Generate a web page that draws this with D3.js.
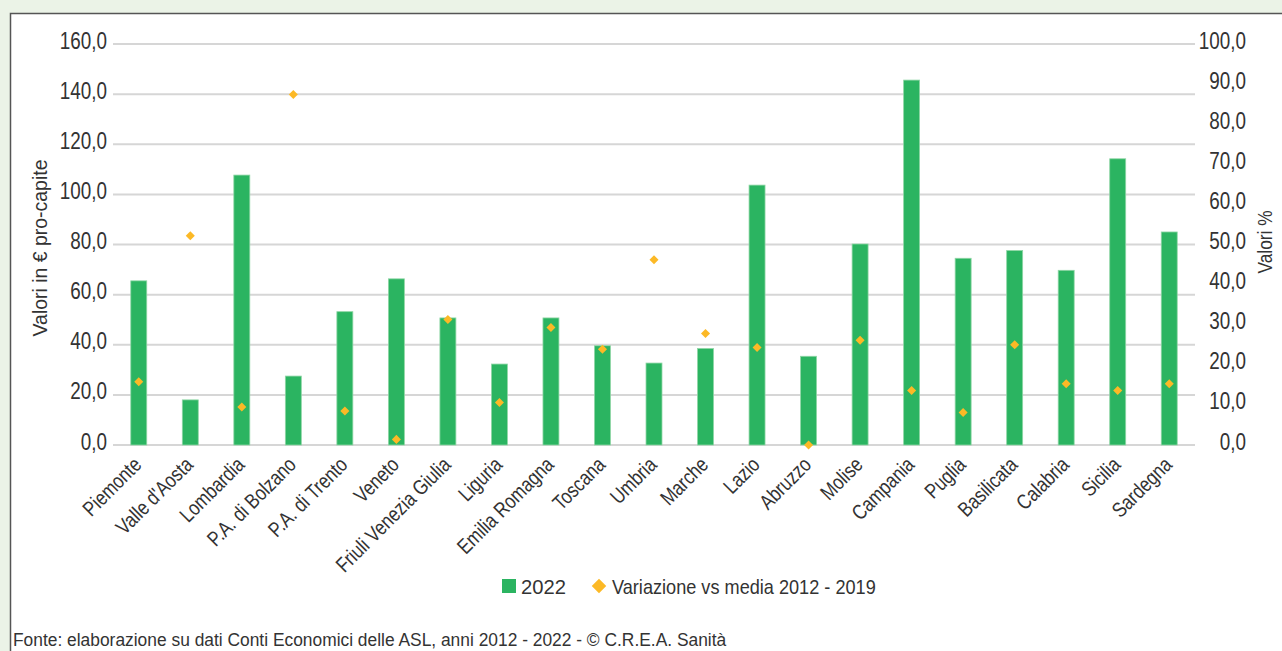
<!DOCTYPE html>
<html><head><meta charset="utf-8">
<script src="https://cdn.jsdelivr.net/npm/d3@7"></script>
<style>
html,body{margin:0;padding:0;background:#ebf3e7;}
svg{display:block;}
text{font-family:"Liberation Sans",Arial,sans-serif;fill:#333;}
</style></head><body>
<svg id="c" width="1282" height="651"></svg>
<script>
const categories = ["Piemonte","Valle d'Aosta","Lombardia","P.A. di Bolzano","P.A. di Trento","Veneto","Friuli Venezia Giulia","Liguria","Emilia Romagna","Toscana","Umbria","Marche","Lazio","Abruzzo","Molise","Campania","Puglia","Basilicata","Calabria","Sicilia","Sardegna"];
const values2022 = [65.5,18.0,107.7,27.5,53.2,66.3,50.7,32.3,50.7,39.6,32.7,38.5,103.7,35.4,80.2,145.6,74.5,77.6,69.7,114.2,85.0];
const variazione = [15.8,52.2,9.5,87.4,8.5,1.4,31.3,10.6,29.3,23.9,46.2,27.8,24.3,0.0,26.1,13.6,8.1,25.0,15.3,13.6,15.3];
const leftTicks = [0,20,40,60,80,100,120,140,160];
const rightTicks = [0,10,20,30,40,50,60,70,80,90,100];
const seriesNames = ["2022","Variazione vs media 2012 - 2019"];
const leftTitle = "Valori in € pro-capite";
const rightTitle = "Valori %";
const source = "Fonte: elaborazione su dati Conti Economici delle ASL, anni 2012 - 2022 - © C.R.E.A. Sanità";

const NARROW = 0.82;
const svg = d3.select("#c");
const fmt = d => d3.format(".1f")(d).replace(".", ",");
const L = 113, R = 1195, T = 44, B = 445;

// frame
svg.append("rect").attr("x",10.5).attr("y",13.5).attr("width",1300).attr("height",700)
  .attr("fill","#fff").attr("stroke","#555").attr("stroke-width",1.5);

const x = d3.scaleBand().domain(categories).range([L, R]).paddingInner(0.69).paddingOuter(0.345);
const yL = d3.scaleLinear().domain([0,160]).range([B, T]);
const yR = d3.scaleLinear().domain([0,100]).range([B, T]);

// gridlines
svg.append("g").selectAll("line").data(leftTicks).join("line")
  .attr("x1",L).attr("x2",R).attr("y1",d=>yL(d)).attr("y2",d=>yL(d))
  .attr("stroke","#d6d6d6").attr("stroke-width",2);

function styleTicks(g){
  g.select(".domain").remove();
  g.selectAll("text").attr("font-size",23).attr("fill","#333").attr("dy",4).attr("x",0)
    .attr("transform",`scale(${NARROW},1)`);
}
// left axis
svg.append("g").attr("transform",`translate(${L-6},0)`)
  .call(d3.axisLeft(yL).tickValues(leftTicks).tickFormat(fmt).tickSize(0).tickPadding(0))
  .call(styleTicks);
// right axis
svg.append("g").attr("transform",`translate(1246,0)`)
  .call(d3.axisLeft(yR).tickValues(rightTicks).tickFormat(fmt).tickSize(0).tickPadding(0))
  .call(styleTicks);

// bars
svg.append("g").selectAll("rect").data(categories).join("rect")
  .attr("x",d=>x(d)).attr("width",x.bandwidth())
  .attr("y",(d,i)=>yL(values2022[i])).attr("height",(d,i)=>B-yL(values2022[i]))
  .attr("fill","#2bb461").attr("stroke","#8fd6a5").attr("stroke-width",0.8);

// diamonds
const dia = d3.symbol().type(d3.symbolDiamond2).size(52);
svg.append("g").selectAll("path").data(categories).join("path")
  .attr("d", dia)
  .attr("transform",(d,i)=>`translate(${x(d)+x.bandwidth()/2},${yR(variazione[i])})`)
  .attr("fill","#fcb926");

// x axis labels
const gx = svg.append("g").attr("transform",`translate(0,${B})`)
  .call(d3.axisBottom(x).tickSize(0).tickPadding(0));
gx.select(".domain").remove();
gx.selectAll("text")
  .attr("font-size",21).attr("fill","#333")
  .attr("text-anchor","end")
  .attr("dy",0).attr("y",0)
  .attr("transform",`translate(4,21) rotate(-45) scale(${NARROW},1)`);

// helper: horizontally fit a text to a measured width
function fitted(sel, target){ const w = sel.node().getComputedTextLength(); return target / w; }

// axis titles
const lt = svg.append("text").attr("text-anchor","middle").attr("font-size",21).text(leftTitle);
lt.attr("transform",`translate(47,248) rotate(-90) scale(${fitted(lt,177)},1)`);
const rt = svg.append("text").attr("text-anchor","middle").attr("font-size",21).text(rightTitle);
rt.attr("transform",`translate(1272,242) rotate(-90) scale(${fitted(rt,63)},1)`);

// legend
const lg = svg.append("g");
lg.append("rect").attr("x",502).attr("y",579).attr("width",14).attr("height",14).attr("fill","#2bb461");
const l1 = lg.append("text").attr("font-size",20).text(seriesNames[0]);
l1.attr("transform",`translate(521,594) scale(${fitted(l1,45)},1)`);
lg.append("path").attr("d", d3.symbol().type(d3.symbolDiamond2).size(135)())
  .attr("transform","translate(599,586)").attr("fill","#fcb926");
const l2 = lg.append("text").attr("font-size",20).text(seriesNames[1]);
l2.attr("transform",`translate(612,594) scale(${fitted(l2,264)},1)`);

// source
const src = svg.append("text").attr("font-size",18.5).text(source);
src.attr("transform",`translate(13,646) scale(${fitted(src,714)},1)`);
</script>
</body></html>
